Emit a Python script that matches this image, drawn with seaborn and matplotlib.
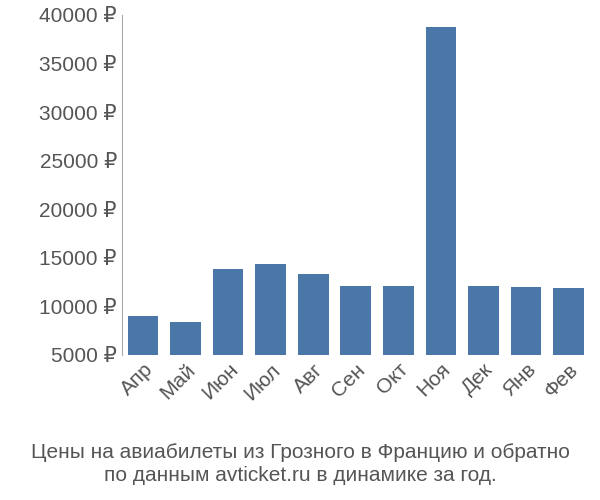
import matplotlib
matplotlib.use("Agg")
import matplotlib.pyplot as plt
import seaborn as sns
import pandas as pd

months = ["Апр", "Май", "Июн", "Июл", "Авг", "Сен", "Окт", "Ноя", "Дек", "Янв", "Фев"]
prices = [9000, 8400, 13900, 14400, 13300, 12100, 12100, 38800, 12100, 12000, 11900]
yticks = [5000, 10000, 15000, 20000, 25000, 30000, 35000, 40000]
title = "Цены на авиабилеты из Грозного в Францию и обратно\nпо данным avticket.ru в динамике за год."

plt.rcParams["font.family"] = ["Liberation Sans", "DejaVu Sans"]
df = pd.DataFrame({"month": months, "price": prices})

fig = plt.figure(figsize=(6, 5), dpi=100)
ax = fig.add_axes([0.203, 0.29, 0.78, 0.68])
sns.barplot(data=df, x="month", y="price", color="#4a76a8", saturation=1, width=0.72, ax=ax)
ax.set_ylim(5000, 40000)
ax.set_yticks(yticks)
ax.set_yticklabels([f"{v} ₽" for v in yticks], fontsize=15, color="#555555")
ax.tick_params(axis="x", labelrotation=45, labelsize=15, labelcolor="#555555", length=0)
ax.tick_params(axis="y", length=0)
for lbl in ax.get_xticklabels():
    lbl.set_ha("right")
    lbl.set_rotation_mode("anchor")
ax.set_xlabel("")
ax.set_ylabel("")
for s in ["top", "right", "bottom"]:
    ax.spines[s].set_visible(False)
ax.spines["left"].set_color("#aaaaaa")
fig.text(0.5, 0.03, title, ha="center", va="bottom", fontsize=15, color="#555555", linespacing=1.3)
fig.savefig("out.png", dpi=100)
